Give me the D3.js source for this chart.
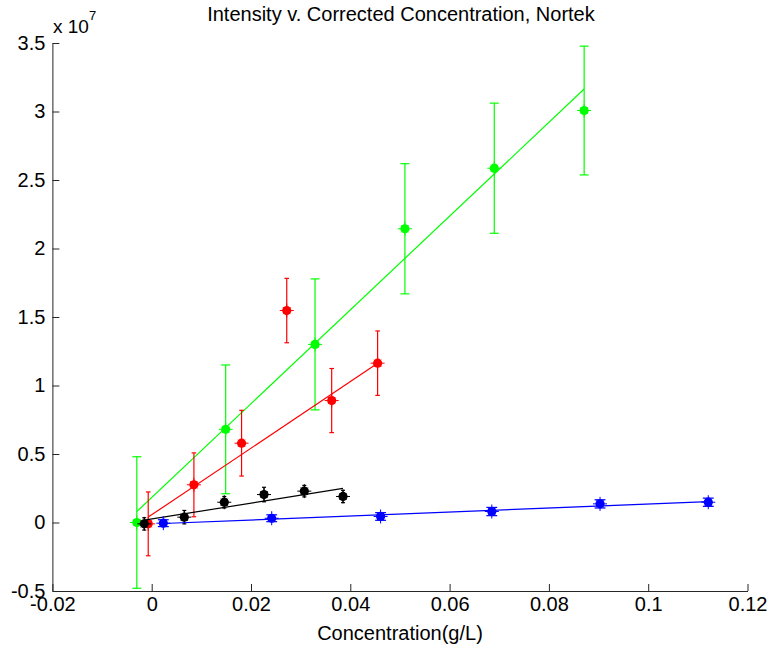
<!DOCTYPE html>
<html>
<head>
<meta charset="utf-8">
<script src="https://cdn.jsdelivr.net/npm/d3@7"></script>
<style>
  body { margin: 0; background: #fff; }
  svg text { font-family: "Liberation Sans", Arial, Helvetica, sans-serif; fill: #000; }
</style>
</head>
<body>
<div id="chart"></div>
<script>
// values (intensity in units of 1e7)
var xTicks = [-0.02, 0, 0.02, 0.04, 0.06, 0.08, 0.1, 0.12];
var xTickLabels = ["-0.02", "0", "0.02", "0.04", "0.06", "0.08", "0.1", "0.12"];
var yTicks = [-0.5, 0, 0.5, 1, 1.5, 2, 2.5, 3, 3.5];
var yTickLabels = ["-0.5", "0", "0.5", "1", "1.5", "2", "2.5", "3", "3.5"];

var greenX = [-0.0030, 0.0149, 0.0329, 0.0510, 0.0690, 0.0871];
var greenY = [0.00, 0.68, 1.30, 2.144, 2.586, 3.007];
var greenErr = [0.48, 0.47, 0.478, 0.475, 0.475, 0.47];

var redX = [-0.0007, 0.0085, 0.0181, 0.0272, 0.03625, 0.0455];
var redY = [-0.01, 0.275, 0.579, 1.547, 0.89, 1.163];
var redErr = [0.233, 0.233, 0.24, 0.235, 0.234, 0.235];
var redFitSkip = [3]; // outlier left out of the fit

var blackX = [-0.0015, 0.00657, 0.01462, 0.02262, 0.03074, 0.03853];
var blackY = [-0.01, 0.039, 0.148, 0.204, 0.229, 0.19];
var blackErr = [0.045, 0.049, 0.042, 0.053, 0.042, 0.045];

var blueX = [0.00234, 0.02417, 0.0461, 0.0685, 0.0903, 0.1121];
var blueY = [-0.005, 0.031, 0.044, 0.080, 0.136, 0.148];
var blueErr = [0.025, 0.025, 0.028, 0.03, 0.03, 0.03];

var W = 772, H = 650;
var plotLeft = 52.4, plotRight = 747.5, plotTop = 43, plotBottom = 591;

var svg = d3.select("#chart").append("svg")
  .attr("width", W)
  .attr("height", H);

var x = d3.scaleLinear().domain([-0.02, 0.12]).range([plotLeft, plotRight]);
var y = d3.scaleLinear().domain([-0.5, 3.5]).range([plotBottom, plotTop]);

// least squares line over the points that are kept
function fitLine(xs, ys, skip) {
  var px = [], py = [];
  xs.forEach(function (v, i) {
    if (!skip || skip.indexOf(i) < 0) { px.push(v); py.push(ys[i]); }
  });
  var mx = d3.mean(px), my = d3.mean(py);
  var sxy = d3.sum(px, function (v, i) { return (v - mx) * (py[i] - my); });
  var sxx = d3.sum(px, function (v) { return (v - mx) * (v - mx); });
  var b = sxy / sxx, a = my - b * mx;
  var x0 = d3.min(px), x1 = d3.max(px);
  return [[x0, a + b * x0], [x1, a + b * x1]];
}

var series = [
  { xs: greenX, ys: greenY, err: greenErr, color: "#00ff00" },
  { xs: redX, ys: redY, err: redErr, color: "#ff0000", skip: redFitSkip },
  { xs: blackX, ys: blackY, err: blackErr, color: "#000000" },
  { xs: blueX, ys: blueY, err: blueErr, color: "#0000ff" }
];

var line = d3.line()
  .x(function (d) { return x(d[0]); })
  .y(function (d) { return y(d[1]); });

series.forEach(function (s) {
  var g = svg.append("g");
  var pts = s.xs.map(function (v, i) { return { x: v, y: s.ys[i], e: s.err[i] }; });
  // cap half width tied to the x spread of the series
  var cap = (d3.max(s.xs) - d3.min(s.xs)) / 100;

  // error bars
  var eb = g.selectAll(".eb").data(pts).enter().append("g")
    .attr("stroke", s.color)
    .attr("stroke-width", 1.2)
    .attr("fill", "none");
  eb.append("line")
    .attr("x1", function (d) { return x(d.x); })
    .attr("x2", function (d) { return x(d.x); })
    .attr("y1", function (d) { return y(d.y - d.e); })
    .attr("y2", function (d) { return y(d.y + d.e); });
  eb.append("line")
    .attr("x1", function (d) { return x(d.x - cap); })
    .attr("x2", function (d) { return x(d.x + cap); })
    .attr("y1", function (d) { return y(d.y + d.e); })
    .attr("y2", function (d) { return y(d.y + d.e); });
  eb.append("line")
    .attr("x1", function (d) { return x(d.x - cap); })
    .attr("x2", function (d) { return x(d.x + cap); })
    .attr("y1", function (d) { return y(d.y - d.e); })
    .attr("y2", function (d) { return y(d.y - d.e); });

  // fitted line
  g.append("path")
    .datum(fitLine(s.xs, s.ys, s.skip))
    .attr("d", line)
    .attr("stroke", s.color)
    .attr("stroke-width", 1.2)
    .attr("fill", "none");

  // markers: filled dot with a small plus through it
  var mk = g.selectAll(".mk").data(pts).enter().append("g")
    .attr("transform", function (d) { return "translate(" + x(d.x) + "," + y(d.y) + ")"; });
  mk.append("circle")
    .attr("r", 4.6)
    .attr("fill", s.color);
  mk.append("path")
    .attr("d", "M-7,0H7M0,-7V7M-3.5,-3.5L3.5,3.5M-3.5,3.5L3.5,-3.5")
    .attr("stroke", s.color)
    .attr("stroke-width", 1);
});

// axes, ticks pointing inward
var axisColor = "#262626";
var xAxis = svg.append("g")
  .attr("transform", "translate(0," + plotBottom + ")")
  .call(d3.axisBottom(x).tickValues(xTicks)
    .tickFormat(function (d, i) { return xTickLabels[i]; })
    .tickSizeInner(-7).tickSizeOuter(0).tickPadding(6));
var yAxis = svg.append("g")
  .attr("transform", "translate(" + plotLeft + ",0)")
  .call(d3.axisLeft(y).tickValues(yTicks)
    .tickFormat(function (d, i) { return yTickLabels[i]; })
    .tickSizeInner(-7).tickSizeOuter(0).tickPadding(7));

[xAxis, yAxis].forEach(function (a) {
  a.select(".domain").attr("stroke", axisColor);
  a.selectAll(".tick line").attr("stroke", axisColor);
  a.selectAll(".tick text")
    .attr("font-size", 20)
    .attr("font-family", "Liberation Sans, Arial, sans-serif")
    .attr("fill", "#000");
});

// title, exponent and axis label
svg.append("text")
  .attr("x", (plotLeft + plotRight) / 2 + 1)
  .attr("y", 21)
  .attr("text-anchor", "middle")
  .attr("font-size", 20)
  .text("Intensity v. Corrected Concentration, Nortek");

var ex = svg.append("text")
  .attr("x", 53)
  .attr("y", 33)
  .attr("font-size", 19);
ex.append("tspan").text("x 10");
ex.append("tspan").attr("dy", -13).attr("font-size", 13).text("7");

svg.append("text")
  .attr("x", 400)
  .attr("y", 640)
  .attr("text-anchor", "middle")
  .attr("font-size", 20)
  .text("Concentration(g/L)");
</script>
</body>
</html>
